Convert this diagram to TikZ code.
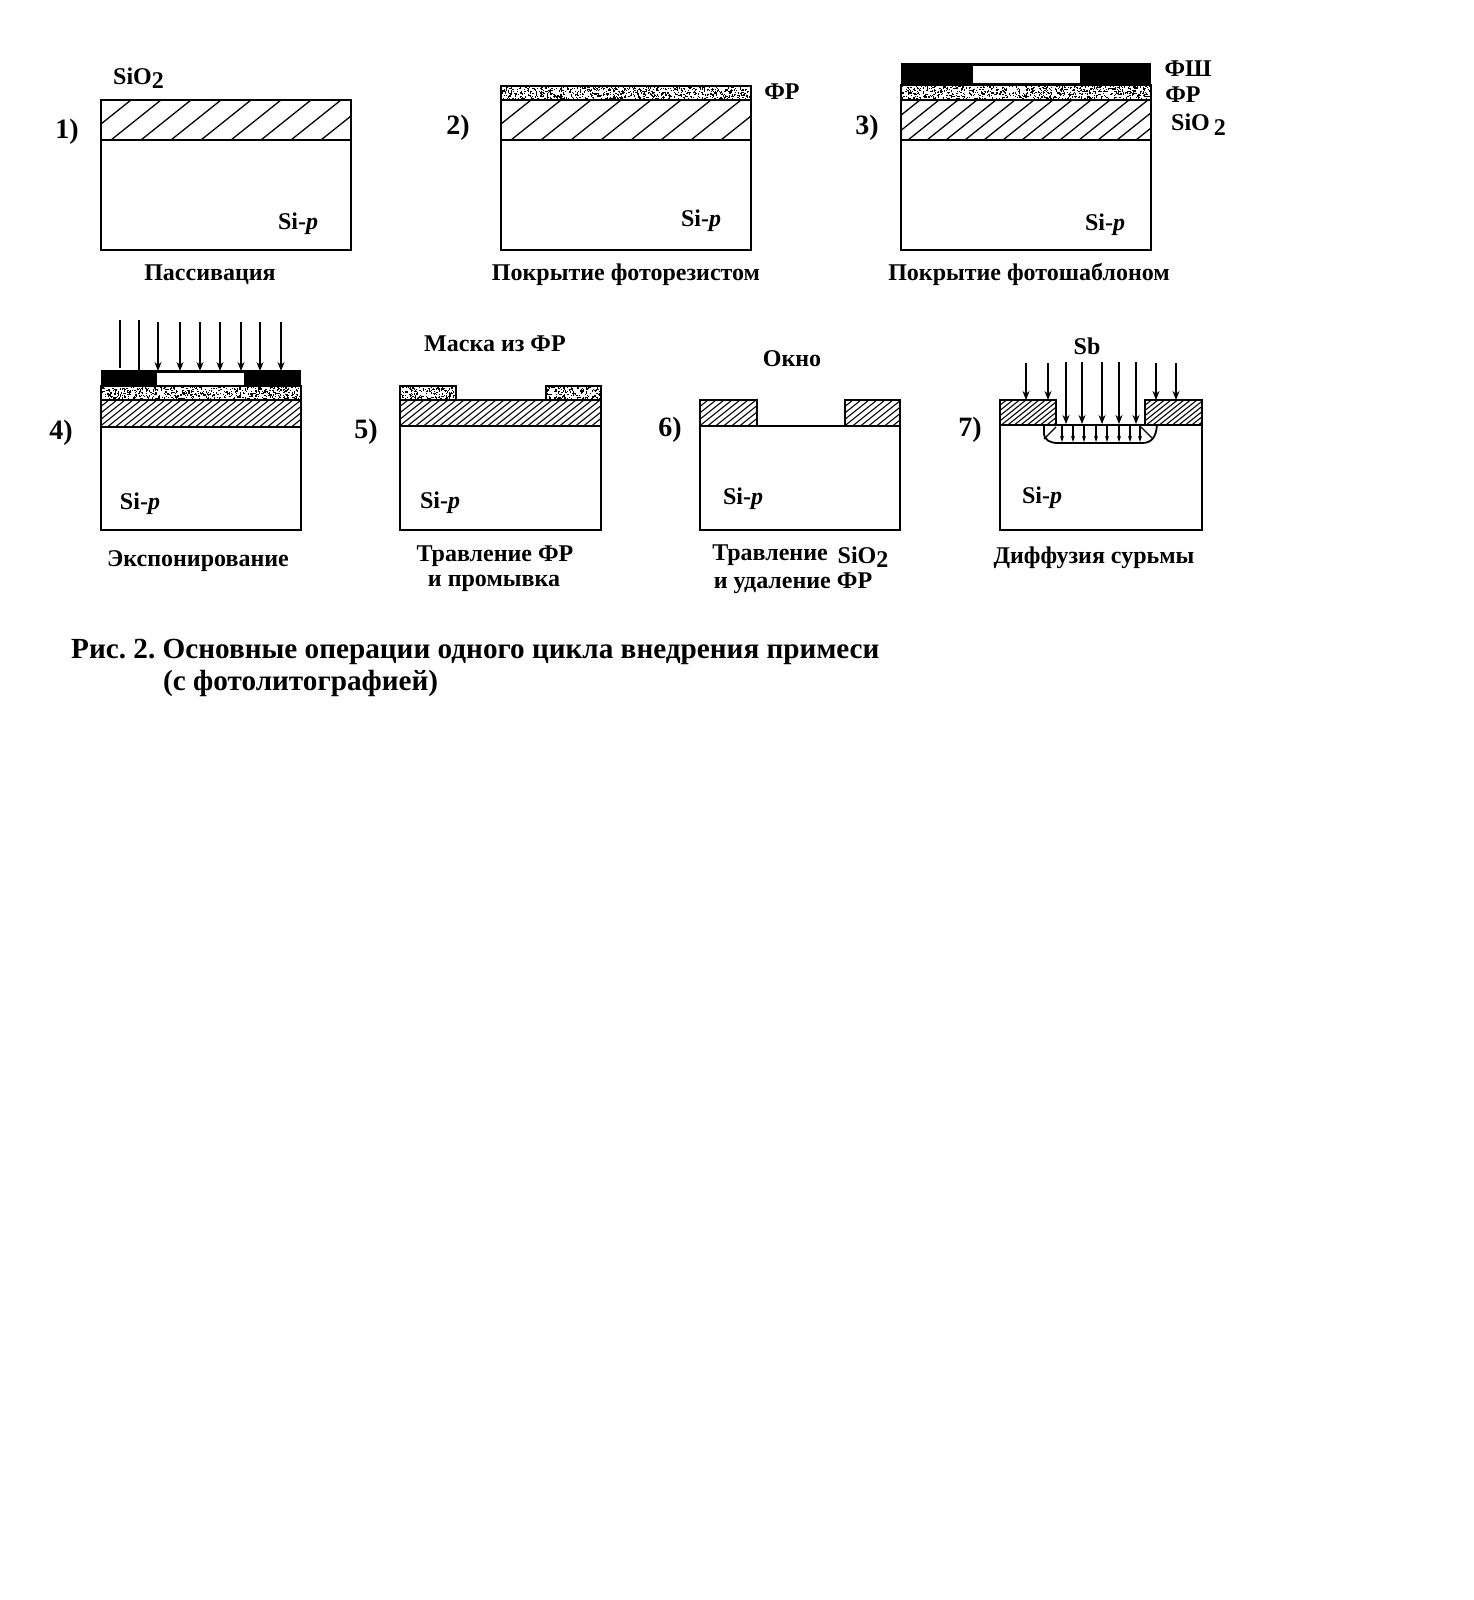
\documentclass[tikz,border=0pt]{standalone}
\usepackage{fontspec}
\setmainfont{Liberation Serif}
\usepackage{tikz}
\usetikzlibrary{arrows.meta}

\newcommand{\sioxide}{SiO\raisebox{-3.5pt}{2}}
\newcommand{\sip}{Si-\textit{p}}
% slanted lines inside a box: x1 y1 x2 y2 spacing
\newcommand{\hatchbox}[5]{
  \begin{scope}
    \clip (#1,#2) rectangle (#3,#4);
    \pgfmathsetmacro\hfirst{#1-1.25*(#4-#2)}
    \pgfmathsetmacro\hnext{\hfirst+#5}
    \foreach \hx in {\hfirst,\hnext,...,#3}
      \draw[hatchline] (\hx,#4) -- ++({1.25*(#4-#2)},{-(#4-#2)});
  \end{scope}}
% random grains of the photoresist: x1 y1 x2 y2 count
\newcommand{\grainbox}[5]{
  \foreach \i in {1,...,#5} {
    \pgfmathsetmacro\gx{#1+rnd*(#3-#1-1.2)}
    \pgfmathsetmacro\gy{#2+rnd*(#4-#2-1.2)}
    \fill (\gx,\gy) rectangle ++(1.2,1.2);
  }}

\begin{document}
\frenchspacing
\begin{tikzpicture}[
  x=1pt, y=-1pt,
  frame/.style={draw, line width=2.7pt, line join=miter},
  hatchline/.style={line width=1.3pt},
  finehatch/.style={line width=1.1pt},
  ray/.style={-{Stealth[length=9pt,width=7pt]}, line width=1.3pt},
  smallray/.style={-{Stealth[length=6pt,width=4pt]}, line width=1.1pt},
  label/.style={font=\fontsize{24}{26}\selectfont\bfseries, inner sep=0pt},
  numlabel/.style={font=\fontsize{28}{30}\selectfont\bfseries, inner sep=0pt},
  capt/.style={font=\fontsize{29.2}{31}\selectfont\bfseries, inner sep=0pt, anchor=west}]

\useasboundingbox[fill=white] (0,0) rectangle (1474,1600);
\pgfmathsetseed{4217}

% first row
\hatchbox{101}{100}{351}{140}{30}
\draw[frame] (101,100) rectangle (351,250);
\draw[frame] (101,140) -- (351,140);
\node[numlabel] (numa) at (67,132) {1)};
\node[label, anchor=west] (oxa) at (113,78) {\sioxide};
\node[label] (sia) at (298,224) {\sip};
\node[label] (capa) at (210,275) {Пассивация};

\hatchbox{501}{100}{751}{140}{30}
\grainbox{501}{86}{751}{100}{800}
\draw[frame] (501,86) rectangle (751,250);
\draw[frame] (501,100) -- (751,100);
\draw[frame] (501,140) -- (751,140);
\node[numlabel] (numb) at (458,128) {2)};
\node[label] (frb) at (782,92) {ФР};
\node[label] (sib) at (701,221) {\sip};
\node[label] (capb) at (626,275) {Покрытие фоторезистом};

\hatchbox{901}{100}{1151}{140}{19}
\grainbox{901}{85}{1151}{100}{800}
\draw[frame] (901,85) rectangle (1151,250);
\draw[frame] (901,100) -- (1151,100);
\draw[frame] (901,140) -- (1151,140);
\fill (901,63) rectangle (1151,86);
\fill[white] (973,66) rectangle (1080,83);
\node[numlabel] (numc) at (867,128) {3)};
\node[label] (fsc) at (1188,69) {ФШ};
\node[label] (frc) at (1183,95) {ФР};
\node[label, anchor=west] (oxc) at (1171,125) {SiO\,\raisebox{-5pt}{2}};
\node[label] (sic) at (1105,225) {\sip};
\node[label] (capc) at (1029,274) {Покрытие фотошаблоном};

% second row
\begin{scope}[hatchline/.style={finehatch}]
\hatchbox{101}{400}{301}{427}{8}
\hatchbox{400}{400}{601}{426}{8}
\hatchbox{700}{400}{757}{426}{8}
\hatchbox{845}{400}{900}{426}{8}
\hatchbox{1000}{400}{1056}{425}{6.5}
\hatchbox{1145}{400}{1202}{425}{6.5}
\end{scope}

% step 4
\grainbox{101}{386}{301}{400}{650}
\draw[frame] (101,386) rectangle (301,530);
\draw[frame] (101,400) -- (301,400);
\draw[frame] (101,427) -- (301,427);
\fill (101,370) rectangle (301,386);
\fill[white] (157,373) rectangle (244,385);
\foreach \rx/\ry in {120/368, 139/370}
  \draw[line width=1.3pt] (\rx,320) -- (\rx,\ry);
\foreach \rx in {158,180,200,220,241,260,281}
  \draw[ray] (\rx,322) -- (\rx,371);
\node[numlabel] (numd) at (61,433) {4)};
\node[label] (sid) at (140,504) {\sip};
\node[label] (capd) at (198,561) {Экспонирование};

% step 5
\grainbox{400}{386}{456}{400}{180}
\grainbox{546}{386}{601}{400}{180}
\draw[frame] (400,400) rectangle (601,530);
\draw[frame] (400,426) -- (601,426);
\draw[frame] (400,400) -- (400,386) -- (456,386) -- (456,400);
\draw[frame] (546,400) -- (546,386) -- (601,386) -- (601,400);
\node[numlabel] (nume) at (366,432) {5)};
\node[label] (mke) at (495,344) {Маска из ФР};
\node[label] (sie) at (440,503) {\sip};
\node[label] (cape) at (495,556) {Травление ФР};
\node[label] (capee) at (494,583) {и промывка};

% step 6
\draw[frame] (700,426) rectangle (900,530);
\draw[frame] (700,426) -- (700,400) -- (757,400) -- (757,426);
\draw[frame] (845,426) -- (845,400) -- (900,400) -- (900,426);
\node[numlabel] (numf) at (670,430) {6)};
\node[label] (wnf) at (792,359) {Окно};
\node[label] (sif) at (743,499) {\sip};
\node[label] (capf) at (770,555) {Травление};
\node[label] (oxf) at (863,557) {\sioxide};
\node[label] (capff) at (793,583) {и удаление ФР};

% step 7
\draw[frame] (1000,425) rectangle (1202,530);
\draw[frame] (1000,425) -- (1000,400) -- (1056,400) -- (1056,425);
\draw[frame] (1145,425) -- (1145,400) -- (1202,400) -- (1202,425);
\draw[line width=1.8pt] (1044,425) -- (1044,433) .. controls (1044,440) and (1050,443) .. (1058,443)
  -- (1142,443) .. controls (1151,443) and (1156,438) .. (1157,425);
\draw[line width=1.1pt] (1044,439) -- (1056,427);
\draw[line width=1.1pt] (1152,438) -- (1141,427);
\foreach \rx in {1026,1048,1156,1176}
  \draw[ray] (\rx,363) -- (\rx,400);
\foreach \rx in {1066,1082,1102,1119,1136}
  \draw[ray] (\rx,362) -- (\rx,424);
\foreach \rx in {1062,1073,1084,1096,1107,1119,1130,1140}
  \draw[smallray] (\rx,426) -- (\rx,442);
\node[numlabel] (numg) at (970,430) {7)};
\node[label] (sbg) at (1087,346) {Sb};
\node[label] (sig) at (1042,498) {\sip};
\node[label] (capg) at (1094,558) {Диффузия сурьмы};

% caption
\node[capt] (figa) at (71,652) {Рис. 2. Основные операции одного цикла внедрения примеси};
\node[capt] (figb) at (163,683) {(с фотолитографией)};
\end{tikzpicture}
\end{document}
